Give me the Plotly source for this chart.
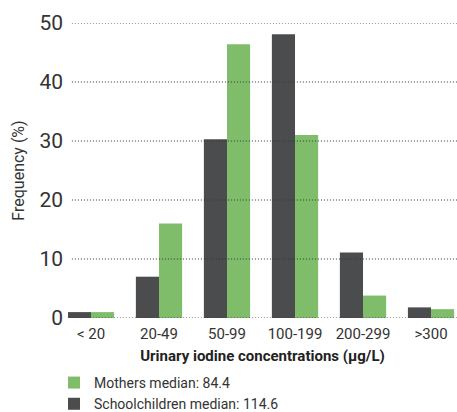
import plotly.graph_objects as go

categories = ["< 20", "20-49", "50-99", "100-199", "200-299", ">300"]
schoolchildren = [1.0, 7.0, 30.3, 48.1, 11.1, 1.8]
mothers = [1.0, 16.0, 46.4, 31.0, 3.8, 1.5]
series_names = ["Schoolchildren median: 114.6", "Mothers median: 84.4"]
y_ticks = [0, 10, 20, 30, 40, 50]

DARK = "#4b4c4e"
GREEN = "#80bd6b"
FONT = "Roboto"

fig = go.Figure()
fig.add_trace(go.Bar(x=list(range(len(categories))), y=schoolchildren, name=series_names[0],
                     marker=dict(color=DARK, line=dict(width=0))))
fig.add_trace(go.Bar(x=list(range(len(categories))), y=mothers, name=series_names[1],
                     marker=dict(color=GREEN, line=dict(width=0))))

for t in y_ticks:
    fig.add_shape(type="line", xref="paper", yref="y", x0=0.01, x1=1, y0=t, y1=t,
                  line=dict(color="#333333", width=1, dash="1px,2px"), layer="above")

fig.update_layout(
    width=457, height=412,
    margin=dict(l=68, r=0, t=23, b=94, autoexpand=False),
    plot_bgcolor="white", paper_bgcolor="white",
    barmode="group", bargap=0.32, bargroupgap=0,
    font=dict(family=FONT, color="#333333"),
    showlegend=True,
    legend=dict(orientation="v", x=-0.036, y=-0.166, xanchor="left", yanchor="top",
                traceorder="reversed", font=dict(size=14, color="#333333"),
                itemwidth=30, tracegroupgap=0, bgcolor="rgba(0,0,0,0)"),
    xaxis=dict(tickmode="array", tickvals=list(range(len(categories))), ticktext=categories,
               range=[-0.338, 5.382], showgrid=False, zeroline=False, showline=False,
               ticks="", ticklabelstandoff=5, tickfont=dict(size=15, color="#333333"),
               title=dict(text="<b>Urinary iodine concentrations (µg/L)</b>",
                          font=dict(size=15, color="#222222"), standoff=8)),
    yaxis=dict(tickmode="array", tickvals=y_ticks, range=[0, 50], showgrid=False,
               zeroline=False, showline=False, ticks="", ticklabelstandoff=4,
               tickfont=dict(size=21, color="#333333"),
               title=dict(text="Frequency (%)", font=dict(size=16, color="#333333"), standoff=10)),
)

fig.write_html("out.html", config={"displayModeBar": False},
               post_script="document.body.style.margin='0px';")
